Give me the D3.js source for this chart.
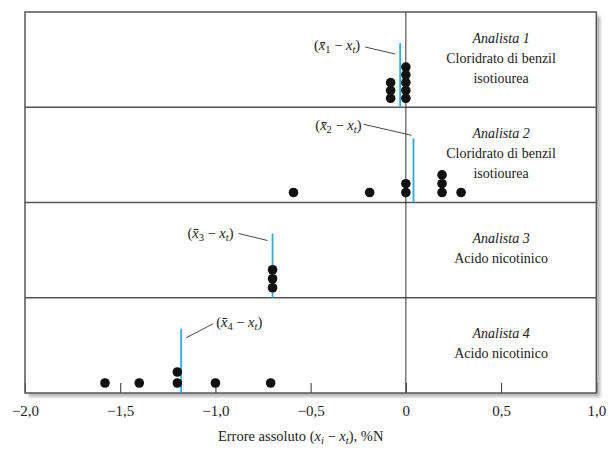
<!DOCTYPE html>
<html>
<head>
<meta charset="utf-8">
<script src="https://cdn.jsdelivr.net/npm/d3@7"></script>
<style>
  body { margin: 0; background: #fff; }
  svg text { font-family: "Liberation Serif", "Tinos", "Times New Roman", "DejaVu Serif", "Noto Serif", serif; fill: #222; }
</style>
</head>
<body>
<svg id="chart" width="610" height="455"></svg>
<script>
// values
const analysts = [ "Analista 1", "Analista 2", "Analista 3", "Analista 4" ];
const samples = [
  [ "Cloridrato di benzil", "isotiourea" ],
  [ "Cloridrato di benzil", "isotiourea" ],
  [ "Acido nicotinico" ],
  [ "Acido nicotinico" ],
];
const errors1 = [ -0.08, -0.08, -0.08, 0, 0, 0, 0, 0 ];
const errors2 = [ -0.59, -0.19, 0, 0, 0.19, 0.19, 0.19, 0.29 ];
const errors3 = [ -0.70, -0.70, -0.70 ];
const errors4 = [ -1.58, -1.40, -1.20, -1.20, -1.00, -0.71 ];
const meanErrors = [ -0.03, 0.04, -0.70, -1.18 ];
const meanIndex = [ "1", "2", "3", "4" ];
const xTicks = [ -2, -1.5, -1, -0.5, 0, 0.5, 1 ];

const errors = [ errors1, errors2, errors3, errors4 ];

// layout only
const WIDTH = 610;
const MARGINS = { top: 12, right: 12, bottom: 62, left: 25 };
const plotBottom = 455 - MARGINS.bottom;
const stackStep = [ 7.8, 8.8, 9, 11 ];
// annotation offsets relative to the top of each mean line
const labelPos = [
  { tx: -40, ty: 2, anchor: "end", l: [ -35, 4, -5, 11 ] },
  { tx: -52, ty: -13, anchor: "end", l: [ -50, -14, -2, -3 ] },
  { tx: -39, ty: -1, anchor: "end", l: [ -34, 0, -5, 7 ] },
  { tx: 35, ty: -7, anchor: "start", l: [ 32, -5, 5, 9 ] },
];

const SERIF = "'Liberation Serif', 'Tinos', 'Times New Roman', 'DejaVu Serif', serif";

const svg = d3.select( "#chart" );

const x = d3.scaleLinear()
  .domain( [ -2, 1 ] )
  .range( [ MARGINS.left, WIDTH - MARGINS.right - 1.7 ] );

const band = d3.scaleBand()
  .domain( analysts )
  .range( [ MARGINS.top, plotBottom ] );

// drop shadow of the frame
const defs = svg.append( "defs" );
defs.append( "filter" )
  .attr( "id", "blur" )
  .append( "feGaussianBlur" )
  .attr( "stdDeviation", 1.6 );

svg.append( "rect" )
  .attr( "x", x( -2 ) + 4 )
  .attr( "y", MARGINS.top + 4 )
  .attr( "width", x( 1 ) - x( -2 ) )
  .attr( "height", plotBottom - MARGINS.top )
  .attr( "fill", "#b8b8b8" )
  .attr( "filter", "url(#blur)" );

svg.append( "rect" )
  .attr( "x", x( -2 ) )
  .attr( "y", MARGINS.top )
  .attr( "width", x( 1 ) - x( -2 ) )
  .attr( "height", plotBottom - MARGINS.top )
  .attr( "fill", "#fff" );

// ticks at the bottom, pointing up
const xAxis = d3.axisBottom( x )
  .tickValues( xTicks )
  .tickSizeInner( -10 )
  .tickSizeOuter( 0 )
  .tickPadding( 12 )
  .tickFormat( d => d === 0 ? "0" : d.toFixed( 1 ).replace( ".", "," ).replace( "-", "\u2212" ) );

const gx = svg.append( "g" )
  .attr( "transform", `translate(0,${plotBottom})` )
  .call( xAxis );
gx.attr( "font-family", SERIF ).attr( "font-size", 15 );
gx.select( ".domain" ).remove();
gx.selectAll( ".tick line" ).attr( "stroke", "#333" );
gx.selectAll( "text" ).attr( "fill", "#222" );

// panel dividers
svg.selectAll( ".divider" )
  .data( analysts.slice( 1 ) )
  .enter()
  .append( "line" )
  .attr( "class", "divider" )
  .attr( "x1", x( -2 ) )
  .attr( "x2", x( 1 ) )
  .attr( "y1", d => band( d ) )
  .attr( "y2", d => band( d ) )
  .attr( "stroke", "#555" )
  .attr( "stroke-width", 1.3 );

// zero line
svg.append( "line" )
  .attr( "x1", x( 0 ) )
  .attr( "x2", x( 0 ) )
  .attr( "y1", MARGINS.top )
  .attr( "y2", plotBottom )
  .attr( "stroke", "#333" )
  .attr( "stroke-width", 1 );

// frame
svg.append( "rect" )
  .attr( "x", x( -2 ) )
  .attr( "y", MARGINS.top )
  .attr( "width", x( 1 ) - x( -2 ) )
  .attr( "height", plotBottom - MARGINS.top )
  .attr( "fill", "none" )
  .attr( "stroke", "#555" )
  .attr( "stroke-width", 1.5 );

analysts.forEach( ( name, i ) => {
  const top = band( name );
  const bottom = top + band.bandwidth();
  const g = svg.append( "g" ).attr( "font-family", SERIF );

  // mean line
  const mx = x( meanErrors[i] );
  const lineTop = top + 31;
  g.append( "line" )
    .attr( "x1", mx )
    .attr( "x2", mx )
    .attr( "y1", lineTop )
    .attr( "y2", bottom )
    .attr( "stroke", "#2aaee2" )
    .attr( "stroke-width", 1.8 );

  // dots, stacked where values repeat
  const seen = {};
  const pts = errors[i].map( v => {
    const k = v.toFixed( 2 );
    seen[k] = ( seen[k] || 0 ) + 1;
    return { v, n: seen[k] - 1 };
  } );
  g.selectAll( "circle" )
    .data( pts )
    .enter()
    .append( "circle" )
    .attr( "cx", d => x( d.v ) )
    .attr( "cy", d => bottom - ( i === 0 ? 9 : 10 ) - d.n * stackStep[i] )
    .attr( "r", 4.8 )
    .attr( "fill", "#111" );

  // annotation
  const lp = labelPos[i];
  g.append( "line" )
    .attr( "x1", mx + lp.l[0] )
    .attr( "y1", lineTop + lp.l[1] )
    .attr( "x2", mx + lp.l[2] )
    .attr( "y2", lineTop + lp.l[3] )
    .attr( "stroke", "#333" )
    .attr( "stroke-width", 0.9 );

  const t = g.append( "text" )
    .attr( "x", mx + lp.tx )
    .attr( "y", lineTop + lp.ty + 5 )
    .attr( "text-anchor", lp.anchor )
    .attr( "font-size", 14.5 );
  t.append( "tspan" ).text( "(" );
  t.append( "tspan" ).attr( "font-style", "italic" ).text( "x\u0304" );
  t.append( "tspan" ).attr( "dy", 3 ).attr( "font-size", 10.5 ).text( meanIndex[i] );
  t.append( "tspan" ).attr( "dy", -3 ).text( " \u2212 " );
  t.append( "tspan" ).attr( "font-style", "italic" ).text( "x" );
  t.append( "tspan" ).attr( "dy", 3 ).attr( "font-style", "italic" ).attr( "font-size", 10.5 ).text( "t" );
  t.append( "tspan" ).attr( "dy", -3 ).text( ")" );

  // panel description on the right
  const cx = ( x( 0 ) + x( 1 ) ) / 2;
  const lines = [ name ].concat( samples[i] );
  const mid = ( top + bottom ) / 2;
  const y0 = mid - ( lines.length - 1 ) * 20 / 2 - 2;
  g.selectAll( ".desc" )
    .data( lines )
    .enter()
    .append( "text" )
    .attr( "class", "desc" )
    .attr( "x", cx )
    .attr( "y", ( d, j ) => y0 + j * 20 )
    .attr( "dy", "0.35em" )
    .attr( "text-anchor", "middle" )
    .attr( "font-size", 14 )
    .attr( "font-style", ( d, j ) => j === 0 ? "italic" : "normal" )
    .text( d => d );
} );

// axis title
const title = svg.append( "text" )
  .attr( "x", ( x( -2 ) + x( 1 ) ) / 2 - 10 )
  .attr( "y", 441 )
  .attr( "text-anchor", "middle" )
  .attr( "font-family", SERIF )
  .attr( "font-size", 14.5 );
title.append( "tspan" ).text( "Errore assoluto (" );
title.append( "tspan" ).attr( "font-style", "italic" ).text( "x" );
title.append( "tspan" ).attr( "dy", 3 ).attr( "font-style", "italic" ).attr( "font-size", 10.5 ).text( "i" );
title.append( "tspan" ).attr( "dy", -3 ).text( " \u2212 " );
title.append( "tspan" ).attr( "font-style", "italic" ).text( "x" );
title.append( "tspan" ).attr( "dy", 3 ).attr( "font-style", "italic" ).attr( "font-size", 10.5 ).text( "t" );
title.append( "tspan" ).attr( "dy", -3 ).text( "), %N" );
</script>
</body>
</html>
